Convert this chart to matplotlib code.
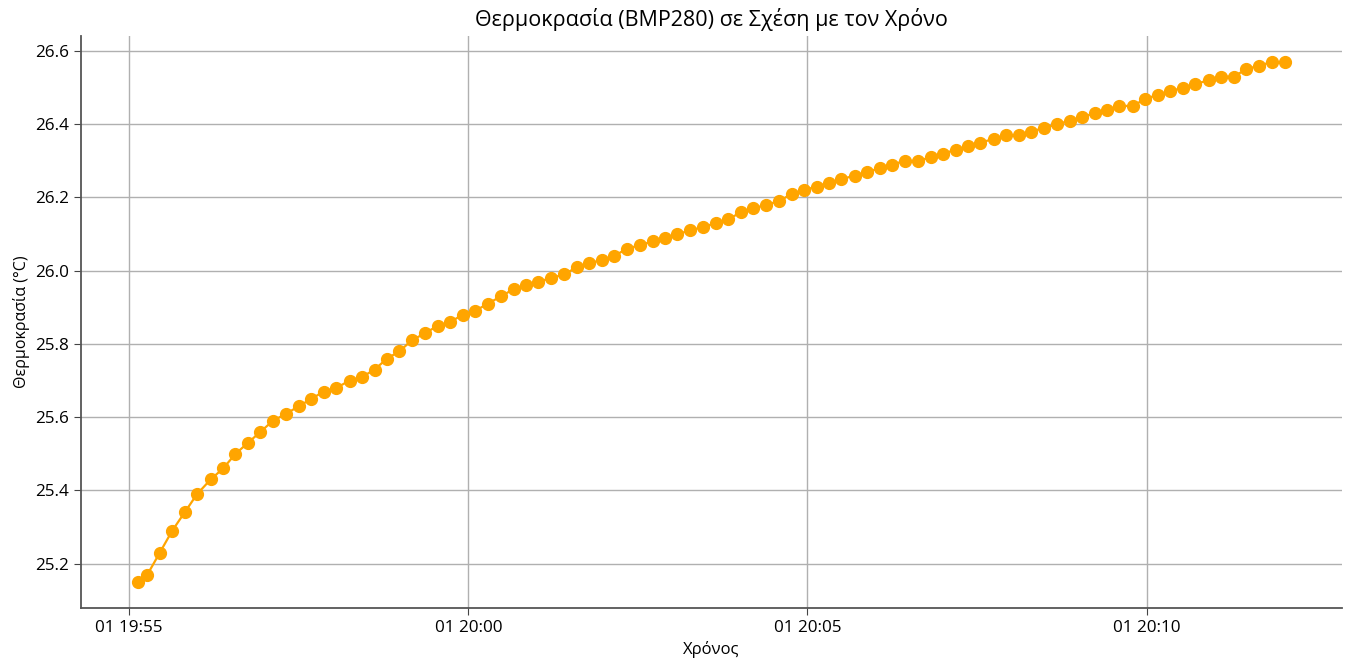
import pandas as pd
import matplotlib
matplotlib.use("Agg")
import matplotlib.pyplot as plt

plt.rcParams['font.family'] = ['Open Sans', 'DejaVu Sans']

# readings every ~11 s, day 01
times = [
    "19:55:08", "19:55:16", "19:55:27", "19:55:38", "19:55:49", "19:56:00",
    "19:56:12", "19:56:23", "19:56:34", "19:56:45", "19:56:56", "19:57:07",
    "19:57:19", "19:57:30", "19:57:41", "19:57:52", "19:58:03", "19:58:15",
    "19:58:26", "19:58:37", "19:58:48", "19:58:59", "19:59:10", "19:59:22",
    "19:59:33", "19:59:44", "19:59:55", "20:00:06", "20:00:17", "20:00:29",
    "20:00:40", "20:00:51", "20:01:02", "20:01:13", "20:01:25", "20:01:36",
    "20:01:47", "20:01:58", "20:02:09", "20:02:20", "20:02:32", "20:02:43",
    "20:02:54", "20:03:05", "20:03:16", "20:03:28", "20:03:39", "20:03:50",
    "20:04:01", "20:04:12", "20:04:23", "20:04:35", "20:04:46", "20:04:57",
    "20:05:08", "20:05:19", "20:05:30", "20:05:42", "20:05:53", "20:06:04",
    "20:06:15", "20:06:26", "20:06:38", "20:06:49", "20:07:00", "20:07:11",
    "20:07:22", "20:07:33", "20:07:45", "20:07:56", "20:08:07", "20:08:18",
    "20:08:29", "20:08:41", "20:08:52", "20:09:03", "20:09:14", "20:09:25",
    "20:09:36", "20:09:48", "20:09:59", "20:10:10", "20:10:21", "20:10:32",
    "20:10:43", "20:10:55", "20:11:06", "20:11:17", "20:11:28", "20:11:39",
    "20:11:51", "20:12:02",
]

temperature = [
    25.15, 25.17, 25.23, 25.29, 25.34, 25.39, 25.43, 25.46, 25.50, 25.53,
    25.56, 25.59, 25.61, 25.63, 25.65, 25.67, 25.68, 25.70, 25.71, 25.73,
    25.76, 25.78, 25.81, 25.83, 25.85, 25.86, 25.88, 25.89, 25.91, 25.93,
    25.95, 25.96, 25.97, 25.98, 25.99, 26.01, 26.02, 26.03, 26.04, 26.06,
    26.07, 26.08, 26.09, 26.10, 26.11, 26.12, 26.13, 26.14, 26.16, 26.17,
    26.18, 26.19, 26.21, 26.22, 26.23, 26.24, 26.25, 26.26, 26.27, 26.28,
    26.29, 26.30, 26.30, 26.31, 26.32, 26.33, 26.34, 26.35, 26.36, 26.37,
    26.37, 26.38, 26.39, 26.40, 26.41, 26.42, 26.43, 26.44, 26.45, 26.45,
    26.47, 26.48, 26.49, 26.50, 26.51, 26.52, 26.53, 26.53, 26.55, 26.56,
    26.57, 26.57,
]

t = pd.to_datetime(["2024-01-01 " + s for s in times])

fig = plt.figure(figsize=(13.54, 6.64), dpi=100)
ax = fig.add_axes([0.0598, 0.0843, 0.9312, 0.8615])

ax.plot(t, temperature, color='orange', marker='o', markersize=8.5, linewidth=1.6)

ax.set_title('Θερμοκρασία (BMP280) σε Σχέση με τον Χρόνο', fontsize=15.5, pad=7)
ax.set_xlabel('Χρόνος', fontsize=12)
ax.set_ylabel('Θερμοκρασία (°C)', fontsize=11.5)
ax.tick_params(labelsize=12.3, length=5, color='#444444')
ax.grid(True, color='#b0b0b0', linewidth=1)
ax.set_axisbelow(True)
for side in ['top', 'right']:
    ax.spines[side].set_visible(False)
for side in ['left', 'bottom']:
    ax.spines[side].set_color('#555555')
    ax.spines[side].set_linewidth(1.3)

fig.savefig('out.png', dpi=100)
